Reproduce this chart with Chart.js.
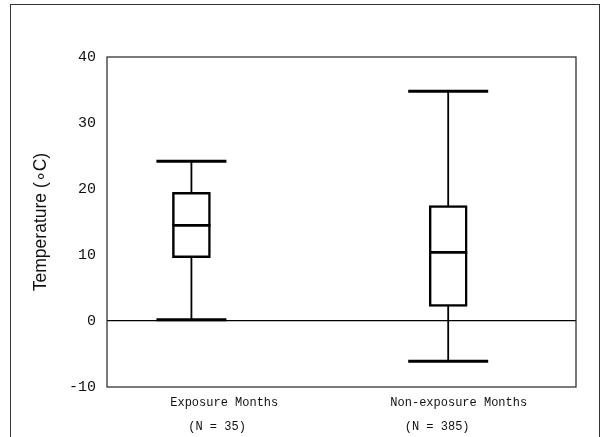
<!DOCTYPE html>
<html lang="en">
<head>
  <meta charset="UTF-8">
  <title>Temperature box plot</title>
  <script src="https://cdn.jsdelivr.net/npm/chart.js"></script>
  <style>
    html, body { margin: 0; padding: 0; background: #fff; }
    #wrap { position: relative; width: 605px; height: 437px; overflow: hidden; }
    #frame {
      position: absolute; left: 10px; top: 4px; width: 588px; height: 450px;
      border: 1.5px solid #333;
    }
    #chart { position: absolute; left: 0; top: 0; }
  </style>
</head>
<body>
  <div id="wrap">
    <div id="frame"></div>
    <canvas id="chart" width="605" height="437"></canvas>
  </div>

  <script>
    // values
    const categories = ['Exposure Months', 'Non-exposure Months'];
    const sampleSizes = ['(N = 35)', '(N = 385)'];
    const whiskerLow = [0.2, -6.1];
    const lowerQuartile = [9.6, 2.2];
    const medians = [14.5, 10.4];
    const upperQuartile = [19.5, 17.5];
    const whiskerHigh = [24.2, 34.8];
    const yTicks = [-10, 0, 10, 20, 30, 40];

    // layout: labels sit at 1 and 2, the boxes are drawn a little left of them
    const labelX = [1, 2];
    const boxX = [0.86, 1.955];
    const capRadius = [35, 40];
    const nPad = [2, 6];

    const whiskerSets = boxX.map((x, i) => ({
      type: 'line',
      data: [{x: x, y: whiskerLow[i]}, {x: x, y: whiskerHigh[i]}],
      borderColor: '#000',
      borderWidth: 1.8,
      pointRadius: 0,
      order: 4
    }));

    const plotFrame = {
      id: 'plotFrame',
      beforeDatasetsDraw(chart) {
        const {ctx, chartArea: a} = chart;
        ctx.save();
        ctx.strokeStyle = '#222';
        ctx.lineWidth = 1.2;
        ctx.strokeRect(a.left, a.top, a.right - a.left, a.bottom - a.top);
        ctx.restore();
      }
    };

    new Chart(document.getElementById('chart'), {
      type: 'bar',
      data: {
        datasets: [
          ...whiskerSets,
          {
            type: 'bar',
            data: boxX.map((x, i) => ({x: x, y: [lowerQuartile[i], upperQuartile[i]]})),
            backgroundColor: '#fff',
            borderColor: '#000',
            borderWidth: 2.5,
            borderSkipped: false,
            barThickness: 38,
            order: 3
          },
          {
            type: 'scatter',
            data: boxX.map((x, i) => ({x: x, y: medians[i]})),
            pointStyle: 'line',
            pointRadius: 19,
            pointBorderWidth: 2.8,
            pointBorderColor: '#000',
            order: 2
          },
          {
            type: 'scatter',
            data: boxX.map((x, i) => ({x: x, y: whiskerLow[i]}))
              .concat(boxX.map((x, i) => ({x: x, y: whiskerHigh[i]}))),
            pointStyle: 'line',
            pointRadius: capRadius.concat(capRadius),
            pointBorderWidth: 3,
            pointBorderColor: '#000',
            order: 1
          }
        ]
      },
      options: {
        responsive: false,
        animation: false,
        events: [],
        layout: { autoPadding: false, padding: { top: 57, right: 29, left: 0, bottom: 0 } },
        plugins: { legend: { display: false }, tooltip: { enabled: false } },
        scales: {
          x: {
            type: 'linear',
            min: 0.5,
            max: 2.5,
            offset: false,
            grid: { display: false, drawTicks: false, offset: false },
            border: { display: false },
            afterBuildTicks: scale => { scale.ticks = labelX.map(v => ({value: v})); },
            afterFit: scale => {
              scale.height = 50;
              scale.paddingLeft = 0;
              scale.paddingRight = 0;
            },
            ticks: {
              padding: 4,
              color: '#111',
              font: { family: 'Liberation Mono', size: 12, lineHeight: 2 },
              callback: (value, i) => [categories[i], sampleSizes[i] + ' '.repeat(nPad[i])]
            }
          },
          y: {
            min: -10,
            max: 40,
            grid: {
              drawTicks: false,
              color: ctx => ctx.tick.value === 0 ? '#000' : 'rgba(0,0,0,0)',
              lineWidth: 1.2
            },
            border: { display: false },
            afterBuildTicks: scale => { scale.ticks = yTicks.map(v => ({value: v})); },
            afterFit: scale => { scale.width = 107; },
            ticks: {
              padding: 11,
              color: '#111',
              font: { family: 'Liberation Mono', size: 15 }
            },
            title: {
              display: true,
              text: 'Temperature (\u2218C)',
              color: '#111',
              padding: { top: 31, bottom: 0 },
              font: { family: 'Liberation Sans', size: 17.5 }
            }
          }
        }
      },
      plugins: [plotFrame]
    });
  </script>
</body>
</html>
